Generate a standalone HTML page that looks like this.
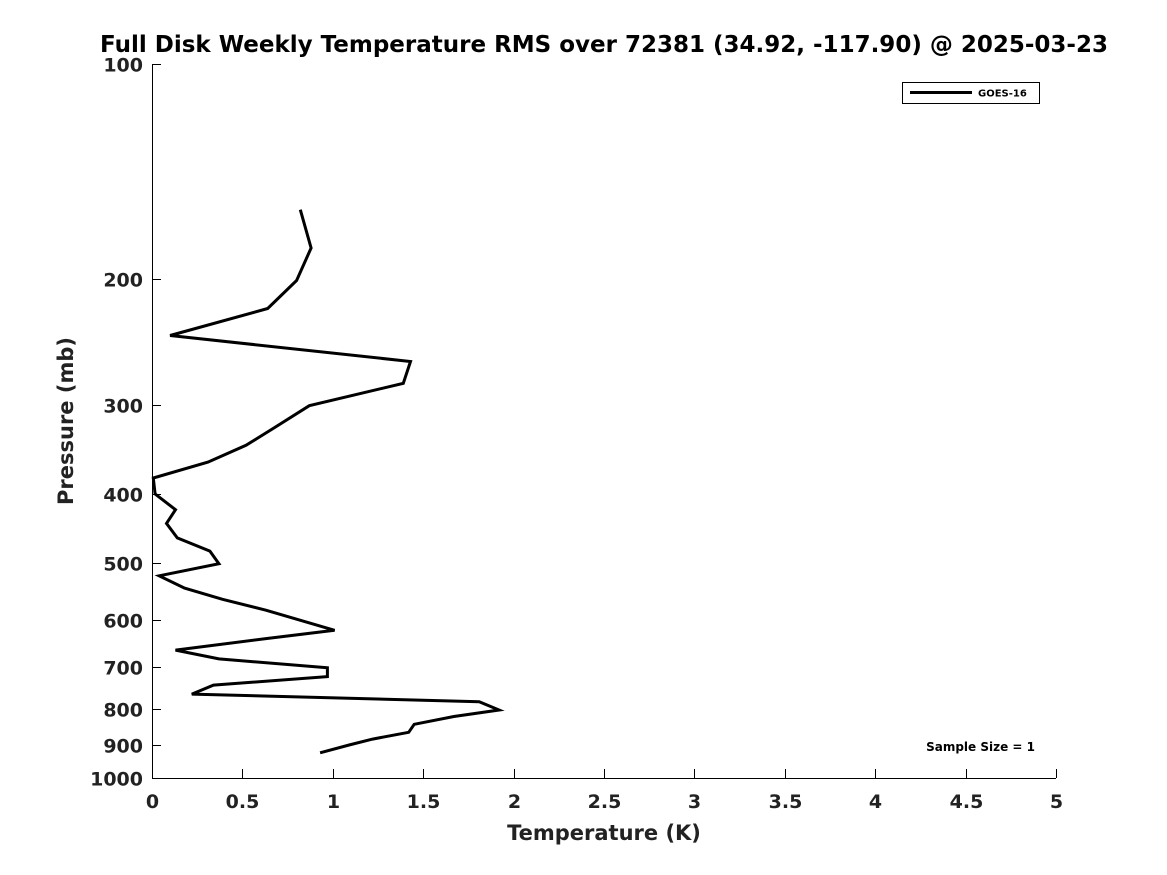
<!DOCTYPE html>
<html><head><meta charset="utf-8"><style>
body{margin:0;background:#fff;}
svg{display:block;font-family:"DejaVu Sans","Liberation Sans",sans-serif;}
</style></head><body>
<svg id="chart" width="1167" height="875">
<text x="604" y="52" text-anchor="middle" font-size="23" font-weight="bold" fill="#000">Full Disk Weekly Temperature RMS over 72381 (34.92, -117.90) @ 2025-03-23</text>
<g id="axes"></g>
<polyline id="series" fill="none" stroke="#000" stroke-width="3" stroke-linejoin="miter"/>
<g>
<rect x="902.5" y="82.5" width="137" height="21" fill="#fff" stroke="#000" stroke-width="1"/>
<line x1="910" y1="92.5" x2="972" y2="92.5" stroke="#000" stroke-width="3"/>
<text x="978" y="96.5" font-size="10" font-weight="bold">GOES-16</text>
</g>
<text x="1035" y="751" text-anchor="end" font-size="12" font-weight="bold">Sample Size = 1</text>
<text x="604" y="840" text-anchor="middle" font-size="21" font-weight="bold" fill="#222">Temperature (K)</text>
<text transform="translate(73,421) rotate(-90)" text-anchor="middle" font-size="21" font-weight="bold" fill="#222">Pressure (mb)</text>
</svg>
<script>
const temps=[0.82,0.88,0.80,0.64,0.10,1.43,1.39,0.87,0.67,0.52,0.31,0.007,0.017,0.13,0.08,0.14,0.32,0.37,0.04,0.18,0.39,0.63,1.01,0.63,0.13,0.37,0.97,0.97,0.34,0.22,1.81,1.92,1.67,1.45,1.42,1.22,1.09,0.93];
const pressures=[160,181,201,220,240,261,280,301,324,342,361,380,400,421,440,461,481,501,521,542,562,582,621,638,662,681,701,721,741,763,782,803,820,841,863,882,899,922];
const xTicks=[0,0.5,1,1.5,2,2.5,3,3.5,4,4.5,5];
const yTicks=[100,200,300,400,500,600,700,800,900,1000];
const X0=152,X1=1056,Y0=64,Y1=778;
function xs(v){return X0+(v-0)/(5-0)*(X1-X0);}
function ys(p){return Y0+(Math.log10(p)-2)/1*(Y1-Y0);}
const NS="http://www.w3.org/2000/svg";
const g=document.getElementById('axes');
function mk(t,a){const e=document.createElementNS(NS,t);for(const k in a)e.setAttribute(k,a[k]);return e;}
const ax=mk('path',{d:`M${X0+0.5},${Y0} V${Y1+0.5} H${X1}`,fill:'none',stroke:'#000','stroke-width':1});


g.appendChild(ax);
xTicks.forEach(v=>{const x=Math.round(xs(v))+0.5;
const t=mk('line',{x1:x,y1:Y1,x2:x,y2:Y1-9,stroke:'#000'});


g.appendChild(t);
const l=mk('text',{x:x,y:808,'text-anchor':'middle','font-size':19,'font-weight':'bold',fill:'#222'});
l.textContent=v;


g.appendChild(l);});
yTicks.forEach(p=>{const y=Math.round(ys(p))+0.5;
const t=mk('line',{x1:X0,y1:y,x2:X0+9,y2:y,stroke:'#000'});


g.appendChild(t);
const l=mk('text',{x:143,y:y+7,'text-anchor':'end','font-size':19,'font-weight':'bold',fill:'#222'});
l.textContent=p;


g.appendChild(l);});
document.getElementById('series').setAttribute('points',temps.map((t,i)=>xs(t).toFixed(1)+','+ys(pressures[i]).toFixed(1)).join(' '));
</script>
</body></html>
